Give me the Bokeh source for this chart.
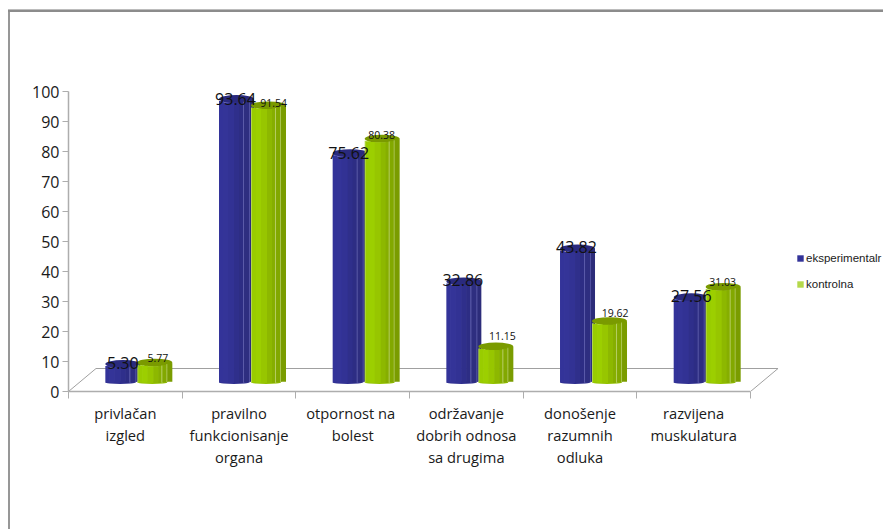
from bokeh.embed import file_html
from bokeh.resources import INLINE
from bokeh.core.properties import value
from bokeh.models import ColumnDataSource, FixedTicker, Legend, LegendItem, Range1d
from bokeh.plotting import figure

# Survey results per category
categories = [
    "privlačan\nizgled",
    "pravilno\nfunkcionisanje\norgana",
    "otpornost  na\nbolest",
    "održavanje\ndobrih odnosa\nsa drugima",
    "donošenje\nrazumnih\nodluka",
    "razvijena\nmuskulatura",
]
series_names = ["eksperimentalr", "kontrolna"]
eksperimentalna = [5.30, 93.64, 75.62, 32.86, 43.82, 27.56]
kontrolna = [5.77, 91.54, 80.38, 11.15, 19.62, 31.03]
y_ticks = list(range(0, 101, 10))

# Pixel geometry of the pseudo 3D plot
PX_CAT = 113.67
PX_UNIT = 3.0
LEFT, BOTTOM = 68, 391
W, H = 883, 529
FLOOR_DX = 27.5 / PX_CAT
FLOOR_DY = 23 / PX_UNIT
BASE = 8 / PX_UNIT


def cx(px):
    return px / PX_CAT


def cy(px):
    return px / PX_UNIT


# The chart-area frame sits outside the plot frame, so it is painted behind the
# transparent canvas; its right and bottom edges run off the page.
FRAME_STYLE = (
    "linear-gradient(#bcbcbc,#bcbcbc) 8px 9px / 875px 1px no-repeat,"
    "linear-gradient(#8c8c8c,#8c8c8c) 8px 10px / 875px 2px no-repeat,"
    "linear-gradient(#979797,#979797) 8px 10px / 2px 519px no-repeat,"
    "white"
)

p = figure(
    width=W, height=H, output_backend="svg", toolbar_location=None,
    x_range=Range1d(0, (W - LEFT) / PX_CAT), y_range=Range1d(0, BOTTOM / PX_UNIT),
    min_border_left=LEFT, min_border_right=0, min_border_top=0, min_border_bottom=H - BOTTOM,
    outline_line_color=None, background_fill_color=None, border_fill_color=None,
    styles={"background": FRAME_STYLE},
)
p.grid.visible = False

AXIS_COLOR = "#adadad"
TEXT_COLOR = "#1a1a1a"

yax = p.yaxis[0]
yax.ticker = FixedTicker(ticks=y_ticks)
yax.bounds = (0, 100)
yax.axis_line_color = AXIS_COLOR
yax.axis_line_width = 1.5
yax.major_tick_line_color = AXIS_COLOR
yax.major_tick_out = 6
yax.major_tick_in = 0
yax.minor_tick_out = 0
yax.minor_tick_in = 0
yax.major_label_standoff = 3
yax.major_label_text_font = "Open Sans"
yax.major_label_text_font_size = "16px"
yax.major_label_text_color = TEXT_COLOR

xax = p.xaxis[0]
centers = [i + 0.5 for i in range(len(categories))]
xax.ticker = FixedTicker(ticks=centers, minor_ticks=list(range(len(categories) + 1)))
xax.major_label_overrides = dict(zip(centers, categories))
xax.bounds = (0, len(categories))
xax.axis_line_color = AXIS_COLOR
xax.axis_line_width = 1.5
xax.major_tick_out = 0
xax.major_tick_in = 0
xax.minor_tick_line_color = AXIS_COLOR
xax.minor_tick_out = 7
xax.minor_tick_in = 0
xax.major_label_standoff = 4
xax.major_label_orientation = "horizontal"
xax.major_label_text_font = "Open Sans"
xax.major_label_text_font_size = "14.7px"
xax.major_label_text_color = TEXT_COLOR
xax.major_label_text_line_height = 1.1

# Floor of the 3D box
n = len(categories)
p.line([0, FLOOR_DX], [0, FLOOR_DY], line_color="#a0a0a0", line_width=1)
p.line([FLOOR_DX, n + FLOOR_DX], [FLOOR_DY, FLOOR_DY], line_color="#a0a0a0", line_width=1.2)
p.line([n, n + FLOOR_DX], [0, FLOOR_DY], line_color="#a0a0a0", line_width=1)

# Facets of a cylinder: left px, right px, colour, rise of the edge in px
blue_facets = [
    (0, 4, "#333399", 1.5), (4, 9, "#343498", 0.4), (9, 15, "#323294", 0.0),
    (15, 20, "#2f2f8b", 0.0), (20, 24, "#2d2d84", 0.3), (24, 25, "#5a5aa8", 0.8),
    (25, 30, "#2e2e80", 1.2), (30, 31, "#5050a0", 2.2), (31, 35, "#2c2c7a", 3.0),
]
green_facets = [
    (0, 1, "#b4d84a", 1.5), (1, 5, "#99cc00", 1.0), (5, 10, "#9ccf00", 0.4), (10, 16, "#97c600", 0.0),
    (16, 21, "#8db800", 0.0), (21, 24, "#86ae00", 0.3), (24, 25, "#b4cc60", 0.8),
    (25, 29, "#82a800", 1.2), (29, 30, "#a9c450", 2.2), (30, 35, "#7a9c00", 3.0),
]


def draw_bars(values, start_px, facets, top_color, bottom_color):
    xs = [c + cx(start_px + 17.5) for c in centers]
    p.ellipse(xs, [v + BASE + cy(3.5) for v in values], width=cx(35), height=cy(8),
              fill_color=top_color, line_color=None)
    p.ellipse([c + cx(start_px + 15) for c in centers], [BASE + cy(1)] * n,
              width=cx(30), height=cy(3), fill_color=bottom_color, line_color=None)
    first = None
    for i, (left, right, color, rise) in enumerate(facets):
        # each strip slips under the next so no seams show between facets
        overlap = 0.6 if i < len(facets) - 1 else 0
        r = p.vbar(x=[c + cx(start_px + (left + right + overlap) / 2) for c in centers],
                   width=cx(right - left + overlap),
                   bottom=BASE + cy(rise * 0.4 + 0.5),
                   top=[v + BASE + cy(rise) for v in values],
                   fill_color=color, line_color=None)
        first = first or r
    return first


blue_renderer = draw_bars(eksperimentalna, -20, blue_facets, "#2a2a7e", "#30308f")
green_renderer = draw_bars(kontrolna, 12, green_facets, "#7a9a00", "#93c200")

# Value labels, each nudged by hand off the top of its column
blue_dx = [-2.5, -3.5, -4, -3.5, -3.5, -2.5]
blue_dy = [-5, -4, -4, -5, -5, -5]
green_dx = [32.5, 34.7, 29, 36, 35, 29]
green_dy = [-8, -6, -7, -14.5, -12, -8]


def draw_labels(values, dx, dy, size):
    source = ColumnDataSource(dict(
        x=centers, y=[v + BASE for v in values], text=[f"{v:.2f}" for v in values], dx=dx, dy=dy,
    ))
    p.text("x", "y", text="text", x_offset="dx", y_offset="dy",
           source=source, text_align="center", text_baseline="middle",
           text_font=value("Open Sans"), text_font_size=size, text_color="#111111")


draw_labels(eksperimentalna, blue_dx, blue_dy, "16px")
draw_labels(kontrolna, green_dx, green_dy, "10.5px")

legend = Legend(
    items=[LegendItem(label=series_names[0], renderers=[blue_renderer]),
           LegendItem(label=series_names[1], renderers=[green_renderer])],
    location=(728, 100), orientation="vertical",
    background_fill_alpha=0, border_line_color=None, margin=0, padding=0,
    glyph_width=8, glyph_height=8, label_standoff=2, label_height=14, spacing=12,
    label_text_font="Liberation Sans", label_text_font_size="11.5px", label_text_color=TEXT_COLOR,
)
p.add_layout(legend)

open("out.html", "w").write(file_html(p, INLINE))
